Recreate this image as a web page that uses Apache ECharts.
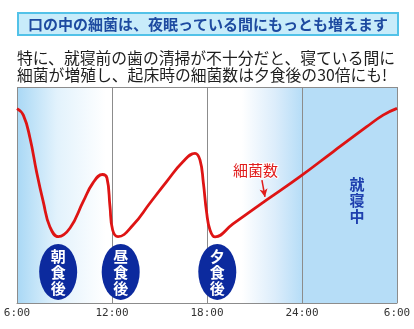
<!DOCTYPE html>
<html>
<head>
<meta charset="utf-8">
<script src="https://cdn.jsdelivr.net/npm/echarts@6/dist/echarts.min.js"></script>
<style>
  html, body { margin: 0; padding: 0; background: #ffffff; }
  #chart { width: 414px; height: 329px; }
</style>
</head>
<body>
<div id="chart"></div>
<script>
// Bacteria count through the day (hour of day, relative level 0–100)
const hours = [6, 6.4, 6.82, 7.24, 7.66, 8.08, 8.61, 9.35, 10.17, 10.8, 11.4, 11.68, 11.87, 12.04, 12.38,
  13.33, 14.4, 15.45, 16.48, 17.24, 17.56, 17.77, 17.98, 18.19, 18.51, 19.64, 21.77, 23.87,
  25.96, 28.09, 29.12, 30];
const bacteria = [90, 87, 76.4, 60.6, 46.8, 35.2, 30.7, 34.7, 46.8, 55.6, 59.5, 57.9, 44.9, 33.8, 30.7,
  36.1, 46.3, 56.2, 65.4, 69.3, 66.2, 55.6, 41.7, 33.8, 30.6, 36.6, 47.7, 58.5,
  70.0, 81.6, 87.0, 90.1];

// Meal markers
const mealLabels = ['朝食後', '昼食後', '夕食後'];
const mealHours = [8.6, 12.55, 18.65];

// Axis ticks
const tickHours = [6, 12, 18, 24, 30];
const tickLabels = ['6:00', '12:00', '18:00', '24:00', '6:00'];

const titleText = '口の中の細菌は、夜眠っている間にもっとも増えます';
const noteLines = ['特に、就寝前の歯の清掃が不十分だと、寝ている間に', '細菌が増殖し、起床時の細菌数は夕食後の30倍にも!'];

const JP = '"Noto Sans CJK JP", "Noto Sans", sans-serif';
const SKY = '#b6ddf7';

const chart = echarts.init(document.getElementById('chart'), null, { renderer: 'canvas' });

const lineData = hours.map((h, i) => [h, bacteria[i]]);
const mealData = mealHours.map((h, i) => ({ value: [h, 14.4], name: mealLabels[i] }));

chart.setOption({
  animation: false,
  backgroundColor: '#ffffff',
  grid: { left: 17, right: 17, top: 87, bottom: 26 },
  xAxis: {
    type: 'value', min: 6, max: 30, interval: 6, z: 5,
    axisLine: { show: true, lineStyle: { color: '#8c8c8c', width: 1 } },
    axisTick: { show: false },
    splitLine: { show: true, lineStyle: { color: '#8c8c8c', width: 1 } },
    axisLabel: {
      margin: 5, color: '#333', fontSize: 11, fontFamily: 'DejaVu Sans Mono, monospace',
      showMinLabel: true, showMaxLabel: true,
      formatter: v => tickLabels[tickHours.indexOf(v)] || ''
    }
  },
  yAxis: {
    type: 'value', min: 0, max: 100, interval: 100, z: 5,
    axisLine: { show: false }, axisTick: { show: false }, axisLabel: { show: false },
    splitLine: { show: true, lineStyle: { color: '#8c8c8c', width: 1 } }
  },
  series: [
    {
      // shaded day/night background bands
      type: 'line', data: [], z: 1, silent: true,
      markArea: {
        silent: true,
        data: [
          [{ xAxis: 6, itemStyle: { color: new echarts.graphic.LinearGradient(0, 0, 1, 0, [
              { offset: 0, color: '#a9d8f5' }, { offset: 0.45, color: '#e2f2fc' }, { offset: 1, color: '#ffffff' }]) } },
           { xAxis: 11.6 }],
          [{ xAxis: 20.2, itemStyle: { color: new echarts.graphic.LinearGradient(0, 0, 1, 0, [
              { offset: 0, color: '#ffffff' }, { offset: 0.55, color: '#dcedfb' }, { offset: 1, color: SKY }]) } },
           { xAxis: 24 }],
          [{ xAxis: 24, itemStyle: { color: SKY } }, { xAxis: 30 }]
        ]
      }
    },
    {
      type: 'line', data: lineData, z: 10, smooth: 0.45, showSymbol: false, silent: true,
      lineStyle: { color: '#de1414', width: 2.8 },
      markLine: {
        silent: true, symbol: ['none', 'arrow'], symbolSize: [6, 8],
        label: { show: false },
        lineStyle: { color: '#e01c1c', width: 1.5, type: 'solid' },
        data: [[{ coord: [21.47, 56.9] }, { coord: [21.66, 49.1] }]]
      }
    },
    {
      type: 'scatter', data: mealData, z: 12, silent: true,
      symbol: 'circle', symbolSize: [38, 56],
      itemStyle: { color: '#0c2a9e', opacity: 1 },
      label: {
        show: true, position: 'inside', color: '#ffffff', fontSize: 15, fontWeight: 'bold',
        fontFamily: JP, lineHeight: 16,
        formatter: p => p.name.split('').join('\n')
      }
    }
  ],
  graphic: [
    { type: 'rect', shape: { x: 18, y: 13, width: 380, height: 22 },
      style: { fill: '#c8ecfa', stroke: '#52c2e8', lineWidth: 2 }, z: 20 },
    { type: 'text', x: 208, y: 24, z: 21,
      style: { text: titleText, fill: '#1d4aa0', font: 'bold 15px ' + JP, textAlign: 'center', textVerticalAlign: 'middle' } },
    { type: 'text', x: 17, y: 58, z: 21,
      style: { text: noteLines[0], fill: '#1e1e1e', font: '15.8px ' + JP, textAlign: 'left', textVerticalAlign: 'middle' } },
    { type: 'text', x: 17, y: 75, z: 21,
      style: { text: noteLines[1], fill: '#1e1e1e', font: '15.8px ' + JP, textAlign: 'left', textVerticalAlign: 'middle' } },
    { type: 'text', x: 233, y: 170, z: 21,
      style: { text: '細菌数', fill: '#e01c1c', font: '15px ' + JP, textAlign: 'left', textVerticalAlign: 'middle',
               stroke: '#ffffff', lineWidth: 2 } },
    { type: 'text', x: 357, y: 200, z: 21,
      style: { text: '就\n寝\n中', fill: '#1e3fae', font: 'bold 15px ' + JP, lineHeight: 16,
               textAlign: 'center', textVerticalAlign: 'middle' } }
  ]
});
</script>
</body>
</html>
